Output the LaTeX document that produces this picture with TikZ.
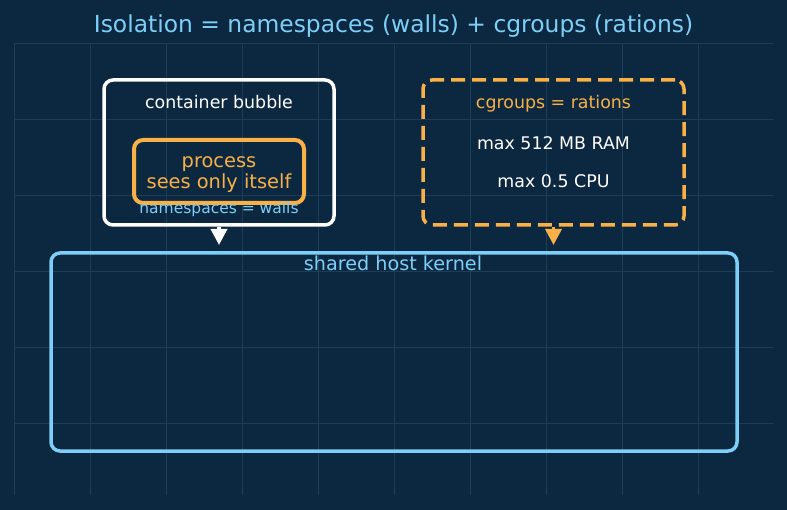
\documentclass[tikz,border=0pt]{standalone}
\usepackage{fontspec}
\setmainfont{DejaVu Sans}
\usetikzlibrary{arrows.meta}
\definecolor{bg}{HTML}{0C2840}
\definecolor{gridc}{HTML}{1E3D57}
\definecolor{skyb}{HTML}{7DCFF8}
\definecolor{orng}{HTML}{F9B046}
\tikzset{
  txt/.style={inner sep=0pt, anchor=base},
  boxrect/.style={draw, rectangle, rounded corners=9pt, inner sep=0pt},
  arr/.style={-{Triangle[length=16pt,width=16pt]}, line width=3.5pt, shorten >=-1pt}
}
\begin{document}
\begin{tikzpicture}[x=1pt,y=-1pt]
\fill[bg] (0,0) rectangle (787,510);
\useasboundingbox (0,0) rectangle (787,510);
% grid
\foreach \i in {0,...,9} {\draw[gridc, line width=0.8pt] (14+76*\i,43) -- (14+76*\i,495);}
\foreach \j in {0,...,5} {\draw[gridc, line width=0.8pt] (14,43+76*\j) -- (774,43+76*\j);}
% title
\node[txt, text=skyb, font=\fontsize{23.4}{28}\selectfont] (title) at (393.5,33) {Isolation = namespaces (walls) + cgroups (rations)};
% container bubble
\node[boxrect, white, line width=3.5pt, minimum width=230pt, minimum height=145pt] (bubble) at (219,152.5) {};
\node[txt, text=white, font=\fontsize{17.4}{20}\selectfont] (bubblelbl) at (219,109) {container bubble};
\node[boxrect, orng, line width=4pt, minimum width=170pt, minimum height=63pt] (proc) at (219,171.5) {};
\node[txt, text=orng, font=\fontsize{19.4}{22}\selectfont] (proc1) at (219,168) {process};
\node[txt, text=orng, font=\fontsize{19.4}{22}\selectfont] (proc2) at (219,189) {sees only itself};
\node[txt, text=skyb, font=\fontsize{15.5}{18}\selectfont] (ns) at (219,214) {namespaces = walls};
% cgroups
\node[boxrect, orng, line width=3.5pt, dash pattern=on 14pt off 7pt, minimum width=261pt, minimum height=145pt] (cg) at (553.5,152.5) {};
\node[txt, text=orng, font=\fontsize{17.4}{20}\selectfont] (cglbl) at (553.5,109) {cgroups = rations};
\node[txt, text=white, font=\fontsize{17.4}{20}\selectfont] (ram) at (553.5,150) {max 512 MB RAM};
\node[txt, text=white, font=\fontsize{17.4}{20}\selectfont] (cpu) at (553.5,188) {max 0.5 CPU};
% kernel
\node[boxrect, skyb, line width=3.5pt, minimum width=686pt, minimum height=198pt] (kernel) at (394,352) {};
\node[txt, text=skyb, font=\fontsize{19.2}{22}\selectfont] (klbl) at (393,271) {shared host kernel};
% arrows
\coordinate (a1) at (219,244);
\coordinate (a2) at (553.5,244);
\draw[arr, white] (bubble.south) -- (a1);
\draw[arr, orng] (cg.south) -- (a2);
\end{tikzpicture}
\end{document}
